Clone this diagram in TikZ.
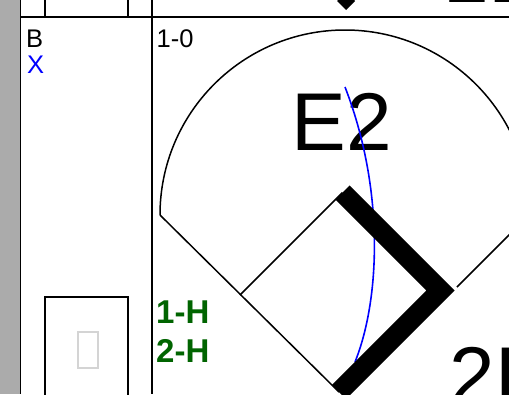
\documentclass[tikz,border=0pt]{standalone}
\usepackage{fontspec}
\setsansfont{Liberation Sans}
\usetikzlibrary{positioning}
\definecolor{scgray}{RGB}{171,171,171}
\definecolor{scgreen}{RGB}{0,100,0}
\definecolor{scblue}{RGB}{0,0,255}
\definecolor{sctofu}{RGB}{212,212,212}
\tikzset{
  sc/.style={font=\sffamily, text=black},
  scgrid/.style={draw=black, line width=1.6pt},
  scfield/.style={draw=black, line width=1.5pt},
  scbase/.style={draw=black, line width=20pt, line join=miter, line cap=butt},
  scfly/.style={draw=scblue, line width=1.6pt},
  sclbl/.style={sc, font=\sffamily\fontsize{25.5}{26}\selectfont, anchor=base west, inner sep=0pt},
  scrun/.style={sclbl, font=\sffamily\bfseries\fontsize{33}{33}\selectfont, text=scgreen},
  scbig/.style={sclbl, font=\sffamily\fontsize{82}{82}\selectfont},
}

\begin{document}
\begin{tikzpicture}[sc, x=1pt, y=-1pt]
  \useasboundingbox (0,0) rectangle (509,394);
  \clip (0,0) rectangle (509,394);

  % sheet grid
  \fill[scgray] (0,0) rectangle (20,394);
  \draw[scgrid] (20.5,0) -- (20.5,394);
  \draw[scgrid] (152,0) -- (152,394);
  \draw[scgrid] (20.5,17) -- (509,17);
  \draw[scgrid] (45,0) -- (45,17) (128,0) -- (128,17);
  \draw[scgrid] (45,400) |- (128,297) -- (128,400);
  \node[draw=sctofu, line width=1.5pt, minimum width=20, minimum height=36, inner sep=0pt] (tofu) at (88,350) {};
  \fill (346,-8) -- (355,1) -- (346,10) -- (337,1) -- cycle;

  % labels
  \node[sclbl] (bat) at (26,47) {B};
  \node[sclbl, text=scblue] (out) at (27,73) {X};
  \node[sclbl] (count) at (156.5,47) {1-0};
  \node[scrun] (run1) at (156,323) {1-H};
  \node[scrun] (run2) at (156,362) {2-H};
  \node[scbig] (prev) at (443,2) {1B};

  % field
  \coordinate (home) at (339,392);
  \coordinate (first) at (440.5,290.5);
  \coordinate (second) at (342.5,192.5);
  \coordinate (third) at (240,295);
  \coordinate (lfoul) at (160,215);
  \coordinate (fline) at (457,287);
  \coordinate (rfoul) at (560,184);
  \draw[scfield] (lfoul) arc[start angle=180, end angle=360, radius=185];
  \draw[scfield] (lfoul) -- (home);
  \draw[scfield] (fline) -- (rfoul);
  \draw[scfield] (third) -- (second);

  \node[scbig] (play) at (291.5,150) {E2};
  \node[scbig] (hit) at (449.5,404) {2B};

  % fly ball
  \coordinate (flytop) at (345,87);
  \coordinate (flyend) at (355,362);
  \draw[scfly] (flytop) .. controls (385,190) and (380,300) .. (flyend);

  % runner path
  \draw[scbase] (second) -- (first) -- (home);
\end{tikzpicture}
\end{document}
